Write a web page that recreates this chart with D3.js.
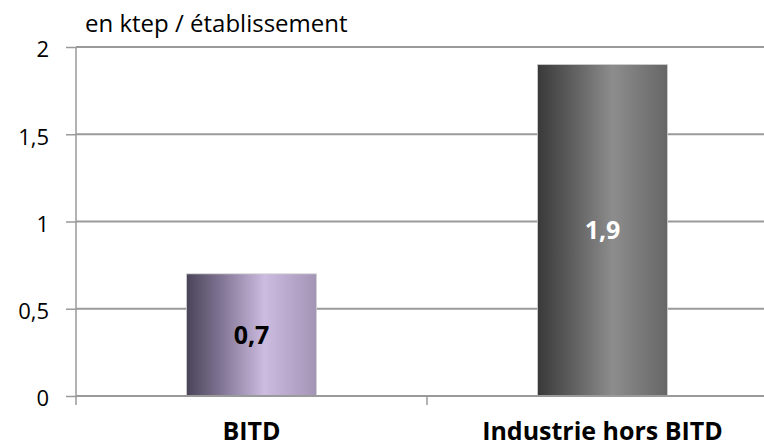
<!DOCTYPE html>
<html>
<head>
<meta charset="UTF-8">
<title>BITD</title>
<script src="https://d3js.org/d3.v7.min.js"></script>
<style>
body { margin: 0; background: #fff; }
svg text { font-family: "Open Sans", Lato, sans-serif; }
</style>
</head>
<body>
<svg id="chart" width="764" height="448"></svg>
<script>
// data
let categories = ["BITD", "Industrie hors BITD"];
let values = [0.7, 1.9];
let valueLabels = ["0,7", "1,9"];
let yTicks = [0, 0.5, 1, 1.5, 2];
let yTickLabels = ["0", "0,5", "1", "1,5", "2"];
let unitLabel = "en ktep / établissement";

let svg = d3.select("#chart");
let plotL = 76, plotR = 778, plotT = 47, plotB = 396;

let x = d3.scaleBand()
    .domain(categories)
    .range([plotL, plotR])
    .paddingInner(0)
    .paddingOuter(0);

let y = d3.scaleLinear()
    .domain([0, 2])
    .range([plotB, plotT]);

// gradients
let defs = svg.append("defs");
let grads = [
    [["0%", "#4a4458"], ["25%", "#7d7190"], ["60%", "#ccbce0"], ["100%", "#a394b6"]],
    [["0%", "#393939"], ["25%", "#5c5c5c"], ["58%", "#8d8d8d"], ["100%", "#666666"]]
];
grads.forEach((stops, i) => {
    let g = defs.append("linearGradient").attr("id", "g" + i)
        .attr("x1", "0%").attr("x2", "100%").attr("y1", "0%").attr("y2", "0%");
    stops.forEach(s => g.append("stop").attr("offset", s[0]).attr("stop-color", s[1]));
});

// gridlines
svg.append("g")
    .selectAll("line")
    .data(yTicks.slice(1))
    .enter().append("line")
    .attr("x1", plotL).attr("x2", plotR)
    .attr("y1", d => y(d)).attr("y2", d => y(d))
    .attr("stroke", "#9a9a9a")
    .attr("stroke-width", 2);

// y axis
let yAxis = svg.append("g")
    .attr("transform", "translate(" + plotL + ",0)")
    .call(d3.axisLeft(y)
        .tickValues(yTicks)
        .tickFormat((d, i) => yTickLabels[i])
        .tickSize(10)
        .tickPadding(17));
yAxis.select(".domain").remove();
yAxis.selectAll("line").attr("stroke", "#9a9a9a").attr("stroke-width", 1.5);
yAxis.selectAll("text")
    .attr("font-size", "22px")
    .attr("dy", "0.45em")
    .attr("fill", "#000");
svg.append("line")
    .attr("x1", plotL).attr("x2", plotL)
    .attr("y1", plotT).attr("y2", plotB + 9)
    .attr("stroke", "#9a9a9a").attr("stroke-width", 1.5);

// bars
let barW = 130;
svg.append("g")
    .selectAll("rect")
    .data(values)
    .enter().append("rect")
    .attr("x", (d, i) => x(categories[i]) + x.bandwidth() / 2 - barW / 2)
    .attr("y", d => y(d))
    .attr("width", barW)
    .attr("height", d => y(0) - y(d))
    .attr("fill", (d, i) => "url(#g" + i + ")")
    .attr("stroke", "#d0d0d0")
    .attr("stroke-width", 0.8);

// x axis baseline + category ticks
svg.append("line")
    .attr("x1", plotL).attr("x2", plotR)
    .attr("y1", y(0)).attr("y2", y(0))
    .attr("stroke", "#9a9a9a").attr("stroke-width", 2);
svg.append("g")
    .selectAll("line")
    .data(categories.slice(1))
    .enter().append("line")
    .attr("x1", d => x(d)).attr("x2", d => x(d))
    .attr("y1", y(0)).attr("y2", y(0) + 9)
    .attr("stroke", "#9a9a9a").attr("stroke-width", 1.5);

// category labels
svg.append("g")
    .selectAll("text")
    .data(categories)
    .enter().append("text")
    .attr("x", d => x(d) + x.bandwidth() / 2)
    .attr("y", 440)
    .attr("text-anchor", "middle")
    .attr("font-size", "25px")
    .attr("font-weight", "bold")
    .text(d => d);

// value labels
svg.append("g")
    .selectAll("text")
    .data(values)
    .enter().append("text")
    .attr("x", (d, i) => x(categories[i]) + x.bandwidth() / 2)
    .attr("y", d => (y(d) + y(0)) / 2 + 9)
    .attr("text-anchor", "middle")
    .attr("font-size", "25px")
    .attr("font-weight", "bold")
    .attr("fill", (d, i) => i === 0 ? "#000" : "#fff")
    .text((d, i) => valueLabels[i]);

// unit label
svg.append("text")
    .attr("x", 85)
    .attr("y", 32)
    .attr("font-size", "24px")
    .text(unitLabel);
</script>
</body>
</html>
